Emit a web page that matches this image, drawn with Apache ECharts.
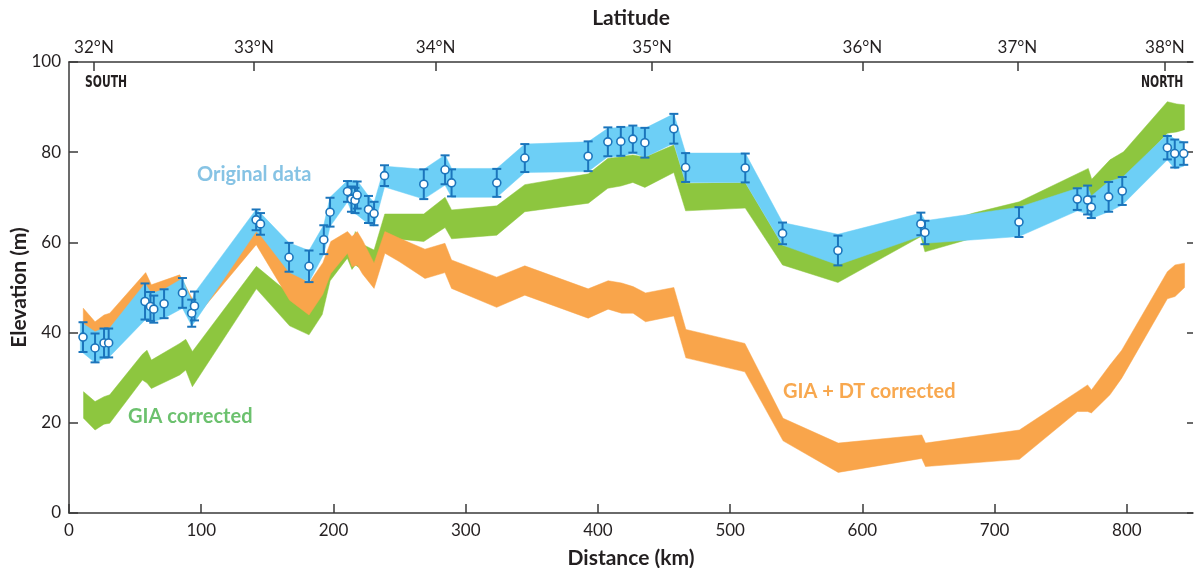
<!DOCTYPE html>
<html>
<head>
<meta charset="utf-8">
<script src="https://cdn.jsdelivr.net/npm/echarts@6/dist/echarts.min.js"></script>
<style>
html,body{margin:0;padding:0;background:#fff;}
#chart{width:1195px;height:568px;}
</style>
</head>
<body>
<div id="chart"></div>
<script>
// latitude ticks on the top axis (distance km where each parallel falls)
var latKm = [18.9, 139.9, 277.3, 441, 600, 717.2, 828.8];
var latLabels = ['32°N', '33°N', '34°N', '35°N', '36°N', '37°N', '38°N'];
var distTicks = [0, 100, 200, 300, 400, 500, 600, 700, 800];

// observed points (km, elevation m, error m)
var ptKm = [10.6, 19.7, 26.5, 30.0, 57.5, 61.6, 64.1, 71.9, 85.8, 92.8, 94.9, 141.5, 144.8, 166.4, 181.5, 192.7, 197.4,
	210.6, 213.6, 216.3, 217.9, 226.5, 230.7, 238.6, 268.3, 284.4, 289.3, 323.5, 344.7, 392.6, 407.5, 417.3, 426.4,
	435.5, 457.4, 466.3, 511.4, 539.6, 581.5, 644.2, 647.3, 718.4, 762.5, 770.3, 773.1, 786.2, 796.5, 830.6, 836.2, 843.0];
var ptElev = [39.0, 36.6, 37.7, 37.7, 46.9, 45.8, 45.2, 46.4, 48.8, 44.3, 45.9, 65.0, 64.1, 56.7, 54.7, 60.6, 66.7,
	71.3, 69.6, 69.3, 70.5, 67.3, 66.4, 74.8, 72.9, 76.1, 73.2, 73.2, 78.7, 79.1, 82.3, 82.4, 82.9,
	82.1, 85.2, 76.6, 76.5, 62.0, 58.2, 64.1, 62.2, 64.5, 69.6, 69.4, 67.8, 70.1, 71.4, 81.0, 79.7, 79.7];
var ptErr = [3.3, 3.2, 3.2, 3.2, 4.0, 3.2, 3.0, 3.2, 3.3, 3.0, 3.2, 2.3, 2.4, 3.2, 3.5, 3.2, 3.2,
	2.3, 2.8, 2.8, 3.0, 3.0, 2.6, 2.3, 3.3, 3.2, 3.0, 3.1, 3.1, 3.3, 3.2, 3.2, 3.0,
	3.3, 3.3, 3.2, 3.2, 2.4, 3.3, 2.5, 2.6, 3.3, 2.4, 3.2, 2.4, 3.3, 3.1, 2.6, 3.1, 2.5];

// original data band
var blueKm = [8.6, 19.7, 26.5, 30.8, 57.5, 62.3, 71.9, 85.8, 92.8, 94.9, 141.5, 144.8, 166.4, 181.5, 192.7, 197.4, 210.6,
	213.6, 217.9, 226.5, 230.7, 238.6, 268.3, 284.4, 289.3, 323.5, 344.7, 392.6, 407.5, 417.3, 426.4, 435.5, 457.4,
	466.3, 511.4, 539.6, 581.5, 644.2, 647.3, 718.4, 762.5, 770.3, 773.1, 786.2, 796.5, 830.6, 836.2, 843.0];
var blueHi = [42.4, 40.2, 41.0, 41.0, 50.9, 48.7, 49.6, 52.0, 47.0, 48.8, 67.3, 66.5, 59.9, 58.2, 63.9, 70.0, 73.7,
	73.7, 73.7, 70.3, 68.8, 76.9, 76.2, 79.4, 76.4, 76.4, 81.8, 82.3, 85.3, 85.5, 85.8, 85.3, 88.5,
	79.8, 79.8, 64.4, 61.8, 66.5, 64.8, 67.8, 72.0, 72.4, 70.3, 73.5, 74.4, 84.0, 82.9, 82.3];
var blueLo = [36.0, 33.3, 34.3, 34.7, 42.8, 42.3, 43.2, 45.4, 41.5, 42.3, 62.4, 61.6, 53.4, 51.2, 57.4, 63.5, 69.0,
	66.8, 66.1, 64.1, 63.6, 72.3, 69.6, 72.7, 70.0, 70.0, 75.5, 75.7, 79.0, 79.0, 79.8, 78.9, 82.0,
	73.3, 73.3, 59.4, 55.0, 61.4, 59.8, 61.3, 67.0, 66.3, 65.3, 66.8, 68.3, 78.3, 76.3, 76.9];

// GIA corrected band
var greenKm = [11.0, 19.7, 26.5, 30.8, 55.5, 59.0, 62.3, 83.7, 88.3, 93.3, 141.7, 166.8, 181.5, 191.5, 197.5, 210.5,
	214.0, 216.5, 219.0, 230.7, 238.8, 268.3, 284.4, 289.3, 323.5, 344.7, 392.8, 407.5, 417.3, 426.4, 435.5, 457.4,
	466.3, 511.4, 539.6, 581.5, 644.2, 647.3, 683.9, 718.6, 770.8, 773.4, 787.2, 797.5, 830.6, 837.7, 843.5];
var greenHi = [26.9, 24.7, 25.8, 26.2, 35.2, 36.1, 33.9, 37.6, 38.5, 35.8, 54.7, 48.6, 47.5, 52.5, 57.5, 60.5,
	59.5, 62.4, 60.0, 58.3, 66.3, 66.3, 70.0, 67.2, 68.1, 72.8, 75.2, 78.6, 79.0, 79.4, 78.9, 81.6,
	73.1, 73.2, 59.3, 57.0, 66.0, 63.0, 66.5, 69.0, 76.4, 74.0, 78.3, 80.1, 91.2, 90.7, 90.5];
var greenLo = [21.0, 18.4, 19.7, 19.9, 29.5, 28.8, 27.6, 30.6, 31.7, 28.0, 49.7, 41.5, 39.5, 44.0, 51.5, 56.5,
	54.0, 55.0, 54.5, 52.0, 61.0, 60.2, 63.3, 60.8, 61.6, 66.8, 68.7, 72.0, 72.5, 73.3, 72.2, 75.5,
	67.0, 67.6, 55.0, 51.1, 61.3, 57.9, 61.0, 62.5, 70.5, 69.0, 72.5, 74.0, 84.2, 84.5, 85.0];

// GIA + DT corrected band
var orangeKm = [10.8, 19.7, 26.5, 30.8, 58.0, 62.3, 83.7, 93.3, 141.6, 166.8, 181.5, 192.0, 198.0, 210.6, 214.0,
	218.0, 222.0, 230.7, 238.9, 250.0, 269.2, 284.3, 289.3, 323.4, 344.7, 392.6, 407.7, 417.9, 426.6, 436.0,
	457.4, 466.5, 511.1, 540.0, 581.7, 644.9, 647.7, 718.7, 762.6, 770.3, 773.2, 787.2, 796.1, 830.6, 836.4, 843.6];
var orangeHi = [45.4, 42.4, 43.9, 44.3, 53.3, 50.6, 52.8, 47.5, 64.3, 54.0, 51.0, 55.5, 60.2, 62.4, 61.3,
	62.4, 60.5, 55.4, 62.4, 60.9, 58.5, 59.8, 56.1, 52.3, 54.8, 49.7, 51.5, 51.0, 50.2, 48.8,
	50.0, 40.7, 37.6, 21.0, 15.5, 17.3, 15.5, 18.4, 26.9, 28.4, 27.3, 32.8, 36.1, 53.5, 55.0, 55.4];
var orangeLo = [40.5, 37.5, 38.5, 39.0, 48.0, 45.5, 47.5, 42.5, 59.5, 47.2, 43.9, 48.5, 53.1, 57.6, 54.6,
	55.0, 53.0, 49.8, 57.6, 55.7, 52.0, 53.3, 49.8, 45.6, 48.3, 43.2, 45.2, 44.3, 44.3, 42.4,
	43.7, 34.4, 31.3, 16.0, 9.0, 12.1, 10.3, 11.9, 22.5, 22.5, 22.2, 26.2, 29.9, 47.5, 48.0, 50.0];

var txt = '#231f20';
var axisCol = '#3a3a3a';
var barColor = '#1b75bc';

function rows(km, lo, hi){
	var out = [];
	for(var i=0;i<km.length;i++){
		out.push([km[i], lo[i], hi[i]]);
	}
	return out;
}

function bandSeries(name, data, color){
	return {
		name:name,
		type:'custom',
		data:data,
		encode:{x:0, y:[1,2]},
		silent:true,
		renderItem:function(params, api){
			if(params.dataIndex !== 0) return null;
			var pts = [];
			for(var i=0;i<data.length;i++){
				pts.push(api.coord([data[i][0], data[i][2]]));
			}
			for(var j=data.length-1;j>=0;j--){
				pts.push(api.coord([data[j][0], data[j][1]]));
			}
			return {
				type:'polygon',
				shape:{points:pts},
				style:{fill:color, stroke:color, lineWidth:0.5}
			};
		}
	};
}

var pts = [];
for(var i=0;i<ptKm.length;i++){
	pts.push([ptKm[i], ptElev[i], ptErr[i]]);
}

var nameStyle = {fontSize:21, fontWeight:'bold', color:txt, fontFamily:'Lato'};
var tagStyle = {fontSize:15, fontWeight:'bold', fontFamily:'DejaVu Sans Condensed', fill:txt};

var chart = echarts.init(document.getElementById('chart'));
var option = {
	animation:false,
	textStyle:{fontFamily:'Lato'},
	grid:{left:69, right:2, top:62, bottom:55, outerBoundsMode:'none', containLabel:false},
	xAxis:[{
		type:'value', position:'bottom', min:0, max:850,
		name:'Distance (km)', nameLocation:'middle', nameGap:35, nameMoveOverlap:false,
		nameTextStyle:nameStyle,
		axisLine:{onZero:false, lineStyle:{color:axisCol, width:1.5}},
		axisTick:{inside:true, length:9, customValues:distTicks, lineStyle:{color:axisCol, width:1.5}},
		axisLabel:{customValues:distTicks, fontSize:17, color:txt, margin:9},
		splitLine:{show:false}
	},{
		type:'value', position:'top', min:0, max:850,
		name:'Latitude', nameLocation:'middle', nameGap:33, nameMoveOverlap:false,
		nameTextStyle:nameStyle,
		axisLine:{onZero:false, lineStyle:{color:axisCol, width:1.5}},
		axisTick:{inside:true, length:9, customValues:latKm, lineStyle:{color:axisCol, width:1.5}},
		axisLabel:{customValues:latKm, fontSize:17, color:txt, margin:6,
			formatter:function(v){
				var k = latKm.indexOf(v);
				return k >= 0 ? latLabels[k] : '';
			}},
		splitLine:{show:false}
	}],
	yAxis:[{
		type:'value', position:'left', min:0, max:100, interval:20,
		name:'Elevation (m)', nameLocation:'middle', nameGap:39, nameMoveOverlap:false,
		nameTextStyle:nameStyle,
		axisLine:{show:true, onZero:false, lineStyle:{color:axisCol, width:1.5}},
		axisTick:{show:true, inside:true, length:9, lineStyle:{color:axisCol, width:1.5}},
		axisLabel:{fontSize:17, color:txt, margin:8},
		splitLine:{show:false}
	},{
		type:'value', position:'right', min:0, max:100, interval:20,
		axisLine:{show:false, onZero:false},
		axisTick:{show:true, inside:true, length:6, lineStyle:{color:axisCol, width:1.5}},
		axisLabel:{show:false},
		splitLine:{show:false}
	}],
	graphic:[
		{type:'text', x:85, y:76, scaleX:0.8, style:Object.assign({text:'SOUTH'}, tagStyle)},
		{type:'text', x:1141, y:76, scaleX:0.8, style:Object.assign({text:'NORTH'}, tagStyle)},
		{type:'text', left:197, top:165, style:{text:'Original data', fontSize:20, fontWeight:'bold', fontFamily:'Lato', fill:'#86c3e4'}},
		{type:'text', left:128, top:407, style:{text:'GIA corrected', fontSize:20, fontWeight:'bold', fontFamily:'Lato', fill:'#6cc16e'}},
		{type:'text', left:783, top:382, style:{text:'GIA + DT corrected', fontSize:20, fontWeight:'bold', fontFamily:'Lato', fill:'#f8a84f'}}
	],
	series:[
		bandSeries('GIA corrected', rows(greenKm, greenLo, greenHi), '#8dc63f'),
		bandSeries('GIA + DT corrected', rows(orangeKm, orangeLo, orangeHi), '#f9a54b'),
		bandSeries('Original data', rows(blueKm, blueLo, blueHi), '#6dcff6'),
		{
			name:'error',
			type:'custom',
			data:pts,
			encode:{x:0, y:1},
			silent:true,
			renderItem:function(params, api){
				var x = api.value(0), y = api.value(1), e = api.value(2);
				var top = api.coord([x, y+e]);
				var bot = api.coord([x, y-e]);
				var w = 4.5;
				var st = {stroke:barColor, lineWidth:2};
				return {
					type:'group',
					children:[
						{type:'line', shape:{x1:top[0], y1:top[1], x2:bot[0], y2:bot[1]}, style:st},
						{type:'line', shape:{x1:top[0]-w, y1:top[1], x2:top[0]+w, y2:top[1]}, style:st},
						{type:'line', shape:{x1:bot[0]-w, y1:bot[1], x2:bot[0]+w, y2:bot[1]}, style:st}
					]
				};
			}
		},
		{
			name:'points',
			type:'scatter',
			data:pts,
			symbol:'circle',
			symbolSize:8,
			silent:true,
			itemStyle:{color:'#fff', borderColor:barColor, borderWidth:1.6, opacity:1}
		}
	]
};
chart.setOption(option);
</script>
</body>
</html>
